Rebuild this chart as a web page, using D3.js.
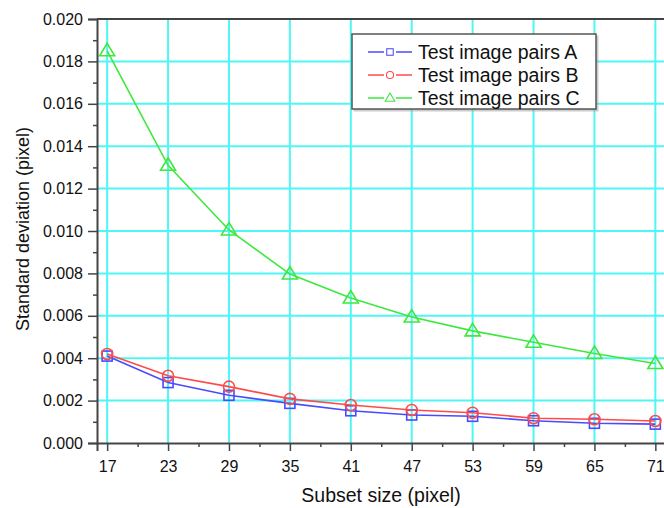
<!DOCTYPE html>
<html>
<head>
<meta charset="utf-8">
<script src="https://cdn.jsdelivr.net/npm/d3@7"></script>
<style>
  body { margin: 0; background: #fff; }
  svg text { font-family: "Liberation Sans", Arial, Helvetica, sans-serif; fill: #111; }
</style>
</head>
<body>
<div class="plot"></div>
<script>
// data
const subsetSizes = [17, 23, 29, 35, 41, 47, 53, 59, 65, 71];
const pairsA = [0.0041, 0.00285, 0.00225, 0.00187, 0.00152, 0.00132, 0.00126, 0.00105, 0.00093, 0.00089];
const pairsB = [0.0042, 0.00317, 0.00266, 0.00208, 0.00179, 0.00156, 0.00143, 0.00117, 0.00112, 0.00104];
const pairsC = [0.0185, 0.0131, 0.01005, 0.00797, 0.00684, 0.00594, 0.00529, 0.00475, 0.00422, 0.00375];
const seriesNames = ['Test image pairs A', 'Test image pairs B', 'Test image pairs C'];
const yTicks = [0, 0.002, 0.004, 0.006, 0.008, 0.010, 0.012, 0.014, 0.016, 0.018, 0.020];
const yMinorTicks = [0.001, 0.003, 0.005, 0.007, 0.009, 0.011, 0.013, 0.015, 0.017, 0.019];
const xMinorTicks = [20, 26, 32, 38, 44, 50, 56, 62, 68];

const width = 664, height = 508;
const margin = {top: 19, left: 97, bottom: 443};

const xScale = d3.scaleLinear().domain([16, 72]).range([margin.left, 665.5]);
const yScale = d3.scaleLinear().domain([0, 0.020]).range([margin.bottom, margin.top]);

const svg = d3.select('.plot')
    .append('svg')
    .attr('width', width)
    .attr('height', height);

const series = [
    {name: seriesNames[0], values: pairsA, color: '#4a4aff', shape: 'square'},
    {name: seriesNames[1], values: pairsB, color: '#ff4a4a', shape: 'circle'},
    {name: seriesNames[2], values: pairsC, color: '#3ee83e', shape: 'triangle'}
];

// grid
const grid = svg.append('g').attr('class', 'grid');
grid.selectAll('.vgrid')
    .data(subsetSizes)
    .enter().append('line')
    .attr('x1', d => xScale(d)).attr('x2', d => xScale(d))
    .attr('y1', yScale(0.020)).attr('y2', yScale(0))
    .attr('stroke', '#4ff6f6').attr('stroke-width', 2);
grid.selectAll('.hgrid')
    .data(yTicks.slice(1))
    .enter().append('line')
    .attr('x1', margin.left).attr('x2', width)
    .attr('y1', d => yScale(d)).attr('y2', d => yScale(d))
    .attr('stroke', '#4ff6f6').attr('stroke-width', 2);

// markers
function drawMarker(g, shape, color) {
    if (shape === 'square') {
        g.append('rect').attr('x', -5).attr('y', -5).attr('width', 10).attr('height', 10)
            .attr('fill', 'none').attr('stroke', color).attr('stroke-width', 1.6);
    } else if (shape === 'circle') {
        g.append('circle').attr('r', 5.5)
            .attr('fill', 'none').attr('stroke', color).attr('stroke-width', 1.6);
    } else {
        g.append('path').attr('d', 'M0,-7.5L7.5,5L-7.5,5Z')
            .attr('fill', 'none').attr('stroke', color).attr('stroke-width', 1.6);
    }
}

const line = d3.line()
    .x((d, i) => xScale(subsetSizes[i]))
    .y(d => yScale(d));

series.forEach(s => {
    svg.append('path')
        .datum(s.values)
        .attr('d', line)
        .attr('fill', 'none')
        .attr('stroke', s.color)
        .attr('stroke-width', 1.6);
    svg.selectAll('.m-' + s.shape)
        .data(s.values)
        .enter().append('g')
        .attr('class', 'm-' + s.shape)
        .attr('transform', (d, i) => `translate(${xScale(subsetSizes[i])},${yScale(d)})`)
        .each(function() { drawMarker(d3.select(this), s.shape, s.color); });
});

// axes
const axisColor = '#444';
const xAxis = svg.append('g')
    .attr('transform', 'translate(0,' + margin.bottom + ')')
    .call(d3.axisBottom(xScale).tickValues(subsetSizes).tickSize(8).tickPadding(10).tickFormat(d3.format('d')));
svg.append('g')
    .attr('transform', 'translate(0,' + margin.bottom + ')')
    .call(d3.axisBottom(xScale).tickValues(xMinorTicks).tickSize(4).tickFormat(''))
    .call(g => g.select('.domain').remove());

const yAxis = svg.append('g')
    .attr('transform', 'translate(' + margin.left + ',0)')
    .call(d3.axisLeft(yScale).tickValues(yTicks).tickSize(9).tickPadding(5).tickFormat(d3.format('.3f')));
svg.append('g')
    .attr('transform', 'translate(' + margin.left + ',0)')
    .call(d3.axisLeft(yScale).tickValues(yMinorTicks).tickSize(4).tickFormat(''))
    .call(g => g.select('.domain').remove());

svg.selectAll('.domain').attr('stroke', axisColor).attr('stroke-width', 2);
svg.selectAll('.tick line').attr('stroke', axisColor).attr('stroke-width', 1.5);
svg.selectAll('.tick text').style('font-size', '16px').attr('fill', '#111');

// top frame line
svg.append('line')
    .attr('x1', margin.left).attr('x2', width)
    .attr('y1', yScale(0.020)).attr('y2', yScale(0.020))
    .attr('stroke', axisColor).attr('stroke-width', 2);

// axis titles
svg.append('text')
    .attr('x', 381).attr('y', 502)
    .attr('text-anchor', 'middle')
    .style('font-size', '19.5px')
    .text('Subset size (pixel)');
svg.append('text')
    .attr('transform', 'translate(29,229) rotate(-90)')
    .attr('text-anchor', 'middle')
    .style('font-size', '18px')
    .text('Standard deviation (pixel)');

// legend
const legend = svg.append('g').attr('transform', 'translate(352,34)');
legend.append('rect')
    .attr('x', 1.5).attr('y', 1.5).attr('width', 245).attr('height', 76)
    .attr('fill', '#999').attr('opacity', 0.5);
legend.append('rect')
    .attr('width', 244).attr('height', 75)
    .attr('fill', '#fff').attr('stroke', '#555').attr('stroke-width', 1.5);

series.forEach((s, i) => {
    const row = legend.append('g').attr('transform', `translate(0,${18 + i * 23})`);
    row.append('line').attr('x1', 16).attr('x2', 60).attr('y1', 0).attr('y2', 0)
        .attr('stroke', s.color).attr('stroke-width', 1.6);
    const mk = row.append('g').attr('transform', 'translate(38,0)');
    mk.append('rect').attr('x', -6).attr('y', -6).attr('width', 12).attr('height', 12).attr('fill', '#fff');
    const shapeG = mk.append('g').attr('transform', 'scale(0.65)');
    drawMarker(shapeG, s.shape, s.color);
    row.append('text')
        .attr('x', 66).attr('y', 7)
        .style('font-size', '19.5px')
        .text(s.name);
});
</script>
</body>
</html>
